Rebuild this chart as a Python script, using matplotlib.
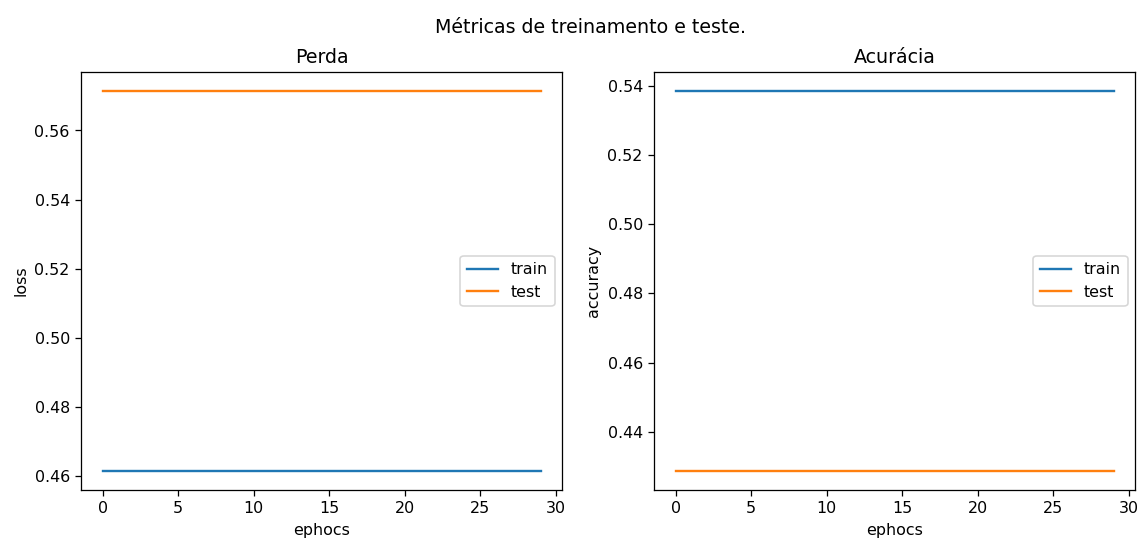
import matplotlib
matplotlib.use("Agg")
import matplotlib.pyplot as plt

# valores (30 epocas, curvas constantes)
epocas = list(range(30))
loss_train = [0.4615] * 30
loss_test = [0.5714] * 30
acc_train = [0.5385] * 30
acc_test = [0.4286] * 30

fig, (ax1, ax2) = plt.subplots(1, 2, figsize=(10, 4.72), dpi=114)
fig.subplots_adjust(left=0.071, right=0.996, top=0.866, bottom=0.089, wspace=0.19)
fig.suptitle("Métricas de treinamento e teste.", x=0.518, y=0.966, fontsize=12)

# perda
ax1.plot(epocas, loss_train, label="train")
ax1.plot(epocas, loss_test, label="test")
ax1.set_title("Perda")
ax1.set_xlabel("ephocs")
ax1.set_ylabel("loss")
ax1.legend(loc="center right")

# acuracia
ax2.plot(epocas, acc_train, label="train")
ax2.plot(epocas, acc_test, label="test")
ax2.set_title("Acurácia")
ax2.set_xlabel("ephocs")
ax2.set_ylabel("accuracy")
ax2.legend(loc="center right")

fig.savefig("out.png", dpi=114)
